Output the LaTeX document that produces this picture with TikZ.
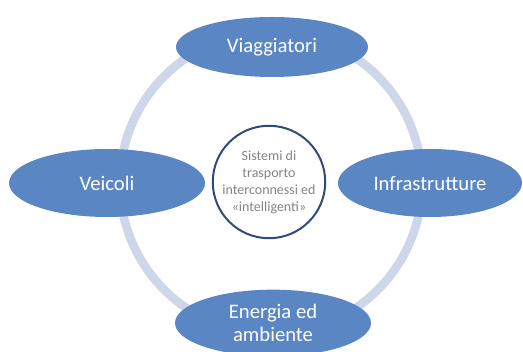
\documentclass[tikz,border=0pt]{standalone}
\usepackage{fontspec}
\setmainfont{Carlito}
\usetikzlibrary{shapes.geometric}

\definecolor{petalblue}{HTML}{5A86C4}
\definecolor{ringblue}{HTML}{CED6E9}
\definecolor{hubblue}{HTML}{2F4B7C}
\definecolor{hubtext}{HTML}{858585}

\begin{document}
\begin{tikzpicture}[x=0.75pt, y=0.75pt,
  petal/.style={ellipse, fill=petalblue, text=white, inner sep=0pt, align=center,
    font=\fontsize{15.5}{17}\selectfont},
  hub/.style={circle, draw=hubblue, line width=1.5pt, fill=white, text=hubtext,
    inner sep=0pt, minimum size=84pt, align=center, font=\fontsize{10.5}{12.8}\selectfont}]

\useasboundingbox (0,0) rectangle (523,352);

% ring behind everything
\draw[ringblue, line width=6.5pt] (271,169) circle (151);

\node[petal, minimum width=144pt, minimum height=45pt] (viaggiatori) at (272,305) {Viaggiatori};
\node[petal, minimum width=147pt, minimum height=51pt] (veicoli) at (107,169) {Veicoli};
\node[petal, minimum width=138pt, minimum height=51pt] (infra) at (430,169) {Infrastrutture};
\node[petal, minimum width=147pt, minimum height=50pt] (energia) at (273,29) {Energia ed\\ambiente};

% centre
\node[hub] (sistemi) at (269,170) {Sistemi di\\trasporto\\interconnessi ed\\«intelligenti»};

\end{tikzpicture}
\end{document}
